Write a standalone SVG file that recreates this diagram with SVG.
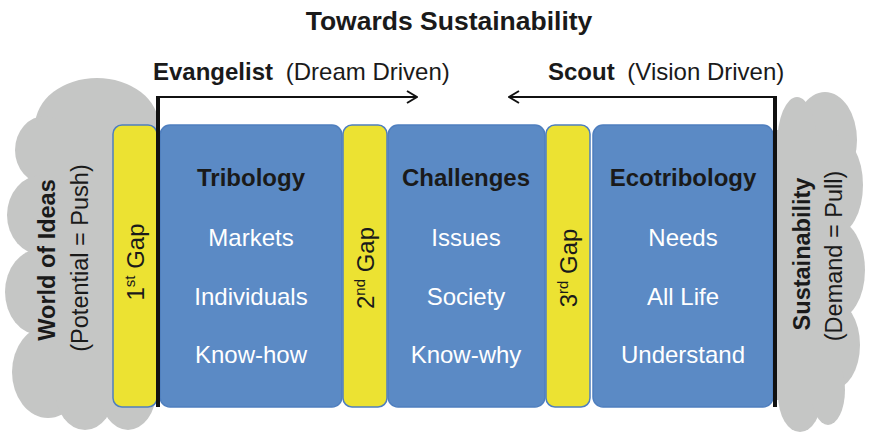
<svg xmlns="http://www.w3.org/2000/svg" width="869" height="433" viewBox="0 0 869 433">
  <defs>
    <style>
      .cloud { fill: #c5c6c5; }
      .gap { fill: #ece232; stroke: #4f7fbf; stroke-width: 1.5; }
      .area { fill: #5b8ac5; stroke: #4f7fbf; stroke-width: 1.5; }
      text { font-family: "Liberation Sans", Arial, sans-serif; }
      .title { font-size: 26.5px; font-weight: bold; fill: #1a1a1a; text-anchor: middle; }
      .label-b { font-size: 24px; font-weight: bold; fill: #1a1a1a; }
      .label { font-size: 24px; fill: #1a1a1a; }
      .head { font-size: 24px; font-weight: bold; fill: #1a1a1a; text-anchor: middle; }
      .item { font-size: 24px; fill: #ffffff; text-anchor: middle; }
      .gaptxt { font-size: 24px; fill: #1a1a1a; text-anchor: middle; }
      .cloud-b { font-size: 23.5px; font-weight: bold; fill: #1a1a1a; text-anchor: middle; }
      .cloud-r { font-size: 23.5px; fill: #1a1a1a; text-anchor: middle; }
      .bar { fill: #111111; }
      .conn { fill: none; stroke: #111111; stroke-width: 2.2; }
    </style>
    <marker id="chev" markerUnits="userSpaceOnUse" viewBox="0 0 12 14" refX="11" refY="7" markerWidth="12" markerHeight="14" orient="auto">
      <path d="M1,1 L11,7 L1,13" fill="none" stroke="#111111" stroke-width="2"/>
    </marker>
  </defs>

  <!-- Title -->
  <text class="title" x="449" y="30">Towards Sustainability</text>

  <!-- Left cloud: World of Ideas -->
  <g id="world-of-ideas">
    <g class="cloud">
      <ellipse cx="97" cy="126" rx="62" ry="48"/>
      <ellipse cx="45" cy="150" rx="30" ry="34"/>
      <ellipse cx="42" cy="215" rx="35" ry="40"/>
      <ellipse cx="40" cy="292" rx="35" ry="43"/>
      <ellipse cx="48" cy="372" rx="36" ry="46"/>
      <ellipse cx="85" cy="390" rx="30" ry="40"/>
      <ellipse cx="128" cy="392" rx="28" ry="38"/>
      <rect x="40" y="120" width="116" height="280"/>
    </g>
    <text class="cloud-b" transform="translate(55 260) rotate(-90)">World of Ideas</text>
    <text class="cloud-r" transform="translate(88 258) rotate(-90)">(Potential = Push)</text>
  </g>

  <!-- Right cloud: Sustainability -->
  <g id="sustainability">
    <g class="cloud">
      <ellipse cx="825" cy="140" rx="32" ry="48"/>
      <ellipse cx="797" cy="145" rx="20" ry="48"/>
      <ellipse cx="835" cy="185" rx="28" ry="50"/>
      <ellipse cx="835" cy="270" rx="30" ry="50"/>
      <ellipse cx="832" cy="345" rx="28" ry="45"/>
      <ellipse cx="800" cy="395" rx="22" ry="37"/>
      <ellipse cx="828" cy="390" rx="17" ry="35"/>
      <rect x="776" y="130" width="59" height="270"/>
    </g>
    <text class="cloud-b" transform="translate(810 254) rotate(-90)">Sustainability</text>
    <text class="cloud-r" transform="translate(842 256) rotate(-90)">(Demand = Pull)</text>
  </g>

  <!-- Gaps -->
  <g id="gap-1">
    <rect class="gap" x="113" y="125" width="44" height="282" rx="9"/>
    <text class="gaptxt" transform="translate(144 262) rotate(-90)">1<tspan font-size="15" dy="-9">st</tspan><tspan dy="9"> Gap</tspan></text>
  </g>
  <g id="gap-2">
    <rect class="gap" x="343" y="125" width="44" height="282" rx="9"/>
    <text class="gaptxt" transform="translate(374 268) rotate(-90)">2<tspan font-size="15" dy="-9">nd</tspan><tspan dy="9"> Gap</tspan></text>
  </g>
  <g id="gap-3">
    <rect class="gap" x="546" y="125" width="44" height="282" rx="9"/>
    <text class="gaptxt" transform="translate(577 268) rotate(-90)">3<tspan font-size="15" dy="-9">rd</tspan><tspan dy="9"> Gap</tspan></text>
  </g>

  <!-- Areas -->
  <g id="tribology">
    <rect class="area" x="160" y="125" width="182" height="282" rx="10"/>
    <text class="head" x="251" y="186">Tribology</text>
    <text class="item" x="251" y="246">Markets</text>
    <text class="item" x="251" y="305">Individuals</text>
    <text class="item" x="251" y="363">Know-how</text>
  </g>
  <g id="challenges">
    <rect class="area" x="388" y="125" width="157" height="282" rx="10"/>
    <text class="head" x="466" y="186">Challenges</text>
    <text class="item" x="466" y="246">Issues</text>
    <text class="item" x="466" y="305">Society</text>
    <text class="item" x="466" y="363">Know-why</text>
  </g>
  <g id="ecotribology">
    <rect class="area" x="593" y="125" width="180" height="282" rx="10"/>
    <text class="head" x="683" y="186">Ecotribology</text>
    <text class="item" x="683" y="246">Needs</text>
    <text class="item" x="683" y="305">All Life</text>
    <text class="item" x="683" y="363">Understand</text>
  </g>

  <!-- Drivers -->
  <g id="evangelist">
    <text x="153" y="80"><tspan class="label-b">Evangelist</tspan><tspan class="label" dx="6"> (Dream Driven)</tspan></text>
  </g>
  <g id="scout">
    <text x="548" y="80"><tspan class="label-b">Scout</tspan><tspan class="label" dx="6"> (Vision Driven)</tspan></text>
  </g>

  <!-- Connectors -->
  <g id="connectors">
    <rect class="bar" x="156" y="96" width="4" height="311"/>
    <path class="conn" d="M156,97 L417,97" marker-end="url(#chev)"/>
    <rect class="bar" x="773" y="96" width="4" height="311"/>
    <path class="conn" d="M777,97 L509,97" marker-end="url(#chev)"/>
  </g>
</svg>
